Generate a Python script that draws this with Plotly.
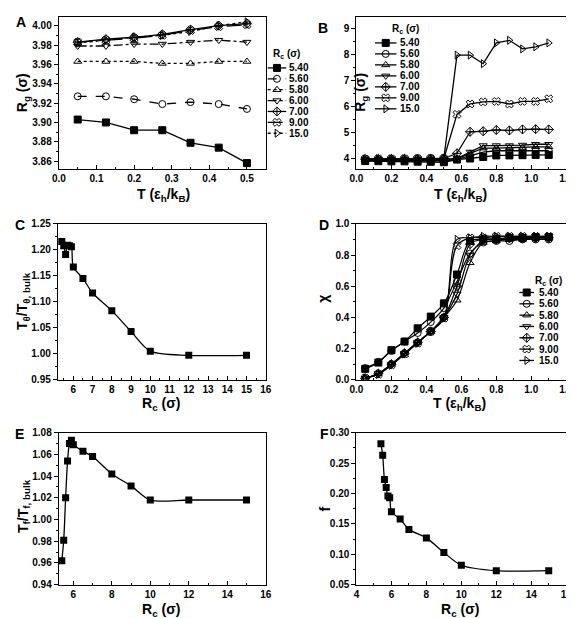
import plotly.graph_objects as go

W, H = 574, 618

# ---------------- data ----------------
series_labels = ["5.40", "5.60", "5.80", "6.00", "7.00", "9.00", "15.0"]
T_vals = [0.05, 0.125, 0.2, 0.275, 0.35, 0.425, 0.5,
          0.575, 0.65, 0.725, 0.8, 0.875, 0.95, 1.025, 1.1]
n_low = 7  # panel A shows T <= 0.5

rg_540 = [3.903, 3.900, 3.892, 3.892, 3.879, 3.874, 3.858, 3.96, 4.00, 4.06, 4.12, 4.12, 4.13, 4.14, 4.14]
rg_560 = [3.927, 3.927, 3.924, 3.919, 3.921, 3.919, 3.914, 3.97, 4.10, 4.25, 4.30, 4.30, 4.30, 4.32, 4.30]
rg_580 = [3.963, 3.963, 3.963, 3.961, 3.961, 3.963, 3.963, 4.00, 4.20, 4.40, 4.40, 4.42, 4.42, 4.45, 4.45]
rg_600 = [3.979, 3.979, 3.981, 3.981, 3.983, 3.985, 3.983, 4.00, 4.25, 4.50, 4.50, 4.50, 4.52, 4.55, 4.55]
rg_700 = [3.983, 3.986, 3.988, 3.991, 3.996, 4.000, 4.002, 4.20, 5.03, 5.05, 5.10, 5.08, 5.12, 5.13, 5.12]
rg_900 = [3.983, 3.985, 3.987, 3.990, 3.995, 3.999, 4.001, 5.70, 6.10, 6.18, 6.20, 6.10, 6.20, 6.20, 6.30]
rg_150 = [3.982, 3.985, 3.988, 3.990, 3.994, 4.000, 4.004, 7.98, 7.98, 7.65, 8.45, 8.55, 8.22, 8.30, 8.45]
rg_all = [rg_540, rg_560, rg_580, rg_600, rg_700, rg_900, rg_150]

chi_540 = [0.07, 0.11, 0.19, 0.245, 0.33, 0.405, 0.49, 0.675, 0.89, 0.90, 0.905, 0.91, 0.91, 0.915, 0.915]
chi_560 = [0.075, 0.115, 0.185, 0.245, 0.30, 0.37, 0.46, 0.63, 0.81, 0.88, 0.89, 0.89, 0.90, 0.90, 0.90]
chi_580 = [0.01, 0.04, 0.10, 0.17, 0.24, 0.31, 0.40, 0.51, 0.75, 0.88, 0.89, 0.90, 0.90, 0.91, 0.91]
chi_600 = [0.01, 0.04, 0.10, 0.17, 0.24, 0.31, 0.40, 0.55, 0.80, 0.89, 0.90, 0.90, 0.91, 0.91, 0.91]
chi_700 = [0.01, 0.04, 0.10, 0.17, 0.24, 0.31, 0.40, 0.60, 0.87, 0.90, 0.90, 0.91, 0.91, 0.91, 0.91]
chi_900 = [0.01, 0.035, 0.095, 0.165, 0.235, 0.31, 0.395, 0.86, 0.91, 0.91, 0.92, 0.92, 0.92, 0.92, 0.92]
chi_150 = [0.01, 0.035, 0.095, 0.165, 0.235, 0.31, 0.395, 0.90, 0.91, 0.92, 0.92, 0.92, 0.92, 0.92, 0.92]
chi_all = [chi_540, chi_560, chi_580, chi_600, chi_700, chi_900, chi_150]

Rc_vals = [5.4, 5.5, 5.6, 5.7, 5.8, 5.9, 6.0, 6.5, 7.0, 8.0, 9.0, 10.0, 12.0, 15.0]
T_theta_ratio = [1.216, 1.208, 1.191, 1.209, 1.208, 1.206, 1.167, 1.145, 1.117, 1.083, 1.043, 1.005, 0.997, 0.997]
T_f_ratio = [0.962, 0.981, 1.020, 1.054, 1.070, 1.073, 1.069, 1.063, 1.058, 1.042, 1.031, 1.018, 1.018, 1.018]
f_vals = [0.282, 0.263, 0.223, 0.210, 0.196, 0.193, 0.170, 0.158, 0.141, 0.127, 0.103, 0.082, 0.073, 0.073]

# ---------------- styles ----------------
symbols = ["square", "circle-open", "triangle-up-open", "triangle-down-open",
           "diamond-cross-open", "x-open", "triangle-right-open"]
dashes_A = ["solid", "dash", "dot", "dashdot", "solid", "longdashdot", "dot"]
BLACK = "#000000"
FONT = "Liberation Sans, Arial, sans-serif"


def px(x):
    return x / W


def py(y):
    return 1 - y / H


fig = go.Figure()

# Panel A
for lab, ys, sym, dsh in zip(series_labels, rg_all, symbols, dashes_A):
    fig.add_trace(go.Scatter(
        x=T_vals[:n_low], y=ys[:n_low], mode="lines+markers", xaxis="x", yaxis="y",
        line=dict(color=BLACK, width=1.3, dash=dsh),
        marker=dict(symbol=sym, size=7, color=BLACK, line=dict(color=BLACK, width=1)),
        showlegend=False, name=lab))

# Panel B
for lab, ys, sym in zip(series_labels, rg_all, symbols):
    fig.add_trace(go.Scatter(
        x=T_vals, y=ys, mode="lines+markers", xaxis="x2", yaxis="y2",
        line=dict(color=BLACK, width=1.3),
        marker=dict(symbol=sym, size=7, color=BLACK, line=dict(color=BLACK, width=1)),
        showlegend=False, name=lab))

# Panel C
fig.add_trace(go.Scatter(
    x=Rc_vals, y=T_theta_ratio, mode="lines+markers", xaxis="x3", yaxis="y3",
    line=dict(color=BLACK, width=1.3, shape="spline", smoothing=0.8),
    marker=dict(symbol="square", size=7, color=BLACK), showlegend=False))

# Panel D
for lab, ys, sym in zip(series_labels, chi_all, symbols):
    fig.add_trace(go.Scatter(
        x=T_vals, y=ys, mode="lines+markers", xaxis="x4", yaxis="y4",
        line=dict(color=BLACK, width=1.2, shape="spline", smoothing=1.0),
        marker=dict(symbol=sym, size=7, color=BLACK, line=dict(color=BLACK, width=1)),
        showlegend=False, name=lab))

# Panel E
fig.add_trace(go.Scatter(
    x=Rc_vals, y=T_f_ratio, mode="lines+markers", xaxis="x5", yaxis="y5",
    line=dict(color=BLACK, width=1.3, shape="spline", smoothing=0.8),
    marker=dict(symbol="square", size=7, color=BLACK), showlegend=False))

# Panel F
fig.add_trace(go.Scatter(
    x=Rc_vals, y=f_vals, mode="lines+markers", xaxis="x6", yaxis="y6",
    line=dict(color=BLACK, width=1.3, shape="spline", smoothing=0.8),
    marker=dict(symbol="square", size=7, color=BLACK), showlegend=False))

# ---------------- manual legends (overlay pixel axis) ----------------
legend_specs = [
    dict(k0=259, k1=278, tx=279, y0=55, dy=11.1, ttx=262, tty=41, dashes=dashes_A),
    dict(k0=369, k1=391, tx=393, y0=29.5, dy=11.2, ttx=384, tty=15, dashes=["solid"] * 7),
    dict(k0=517, k1=532, tx=535, y0=284, dy=11.55, ttx=531, tty=272, dashes=["solid"] * 7),
]
for spec in legend_specs:
    for i, (lab, sym, dsh) in enumerate(zip(series_labels, symbols, spec["dashes"])):
        yy = spec["y0"] + i * spec["dy"]
        fig.add_trace(go.Scatter(
            x=[spec["k0"], (spec["k0"] + spec["k1"]) / 2, spec["k1"]], y=[yy, yy, yy],
            mode="lines", xaxis="x7", yaxis="y7", hoverinfo="skip",
            line=dict(color=BLACK, width=1.3, dash=dsh), showlegend=False))
        fig.add_trace(go.Scatter(
            x=[(spec["k0"] + spec["k1"]) / 2], y=[yy], mode="markers", xaxis="x7", yaxis="y7",
            hoverinfo="skip",
            marker=dict(symbol=sym, size=7, color=BLACK, line=dict(color=BLACK, width=1)),
            showlegend=False))
        fig.add_annotation(x=px(spec["tx"]), y=py(yy), xref="paper", yref="paper",
                           text=lab, showarrow=False, xanchor="left", yanchor="middle",
                           font=dict(family=FONT, size=10, color=BLACK, weight="bold"))
    fig.add_annotation(x=px(spec["ttx"]), y=py(spec["tty"]), xref="paper", yref="paper",
                       text="R<sub>c</sub> (σ)", showarrow=False, xanchor="left", yanchor="middle",
                       font=dict(family=FONT, size=10, color=BLACK, weight="bold"))

# ---------------- axes ----------------
LX = [px(45), px(257)]
RX = [px(350), px(565)]
R1 = [py(158), py(3)]
R2 = [py(373), py(214)]
R3 = [py(582), py(427)]

tickfont = dict(family=FONT, size=10, color=BLACK, weight="bold")


def xax(domain, rng, dtick, fmt, minor_dtick, anchor):
    return dict(domain=domain, range=rng, dtick=dtick, tickformat=fmt, anchor=anchor,
                showgrid=False, zeroline=False, showline=True, linecolor=BLACK, linewidth=1.3,
                mirror=True, ticks="inside", ticklen=4, tickwidth=1, tickcolor=BLACK,
                minor=dict(dtick=minor_dtick, ticks="inside", ticklen=2, tickcolor=BLACK, showgrid=False),
                tickfont=tickfont, fixedrange=True)


def yax(domain, rng, dtick, fmt, minor_dtick, anchor):
    return dict(domain=domain, range=rng, dtick=dtick, tickformat=fmt, anchor=anchor,
                showgrid=False, zeroline=False, showline=True, linecolor=BLACK, linewidth=1.3,
                mirror=True, ticks="outside", ticklen=4, tickwidth=1, tickcolor=BLACK,
                minor=dict(dtick=minor_dtick, ticks="outside", ticklen=2, tickcolor=BLACK, showgrid=False),
                tickfont=tickfont, fixedrange=True)


fig.update_layout(
    width=W, height=H, margin=dict(l=0, r=0, t=0, b=0),
    paper_bgcolor="white", plot_bgcolor="rgba(0,0,0,0)",
    xaxis=xax(LX, [0, 0.55], 0.1, ".1f", 0.05, "y"),
    yaxis=yax(R1, [3.852, 4.009], 0.02, ".2f", 0.01, "x"),
    xaxis2=xax(RX, [0, 1.2], 0.2, ".1f", 0.1, "y2"),
    yaxis2=yax(R1, [3.6, 9.45], 1, "d", 0.5, "x2"),
    xaxis3=xax([px(44), px(257)], [5.2, 16], 1, "d", 0.5, "y3"),
    yaxis3=yax(R2, [0.95, 1.25], 0.05, ".2f", 0.025, "x3"),
    xaxis4=xax(RX, [0, 1.2], 0.2, ".1f", 0.1, "y4"),
    yaxis4=yax(R2, [0, 1.0], 0.2, ".1f", 0.1, "x4"),
    xaxis5=xax(LX, [5.25, 16], 2, "d", 1, "y5"),
    yaxis5=yax(R3, [0.94, 1.08], 0.02, ".2f", 0.01, "x5"),
    xaxis6=xax(RX, [4, 16], 2, "d", 1, "y6"),
    yaxis6=yax(R3, [0.05, 0.30], 0.05, ".2f", 0.025, "x6"),
    xaxis7=dict(domain=[0, 1], range=[0, W], visible=False, showticklabels=False,
                fixedrange=True, anchor="y7"),
    yaxis7=dict(domain=[0, 1], range=[H, 0], visible=False, showticklabels=False,
                fixedrange=True, anchor="x7"),
)

# ---------------- titles & panel letters ----------------
title_font = dict(family=FONT, size=14, color=BLACK, weight="bold")
T_title = "T (ε<sub>h</sub>/k<sub>B</sub>)"
Rc_title = "R<sub>c</sub> (σ)"

texts = [
    (152, 185, T_title, 0),
    (457, 185, T_title, 0),
    (150, 398, Rc_title, 0),
    (456, 398, T_title, 0),
    (150, 608, Rc_title, 0),
    (456, 608, Rc_title, 0),
    (9, 80, "R<sub>g</sub> (σ)", -90),
    (355, 80, "R<sub>g</sub> (σ)", -90),
    (9, 293, "T<sub>θ</sub>/T<sub>θ, bulk</sub>", -90),
    (316, 290, "χ", -90),
    (9, 502, "T<sub>f</sub>/T<sub>f, bulk</sub>", -90),
    (318, 505, "f", -90),
]
for x, y, t, a in texts:
    fig.add_annotation(x=px(x), y=py(y), xref="paper", yref="paper", text=t, textangle=a,
                       showarrow=False, xanchor="center", yanchor="middle", font=title_font)

letters = [("A", 6, 8), ("B", 316, 14), ("C", 5, 215), ("D", 317, 215), ("E", 5, 428), ("F", 317, 428)]
for t, x, y in letters:
    fig.add_annotation(x=px(x), y=py(y), xref="paper", yref="paper", text=t, showarrow=False,
                       xanchor="center", yanchor="middle",
                       font=dict(family=FONT, size=14, color=BLACK, weight="bold"))

fig.write_html("out.html")
